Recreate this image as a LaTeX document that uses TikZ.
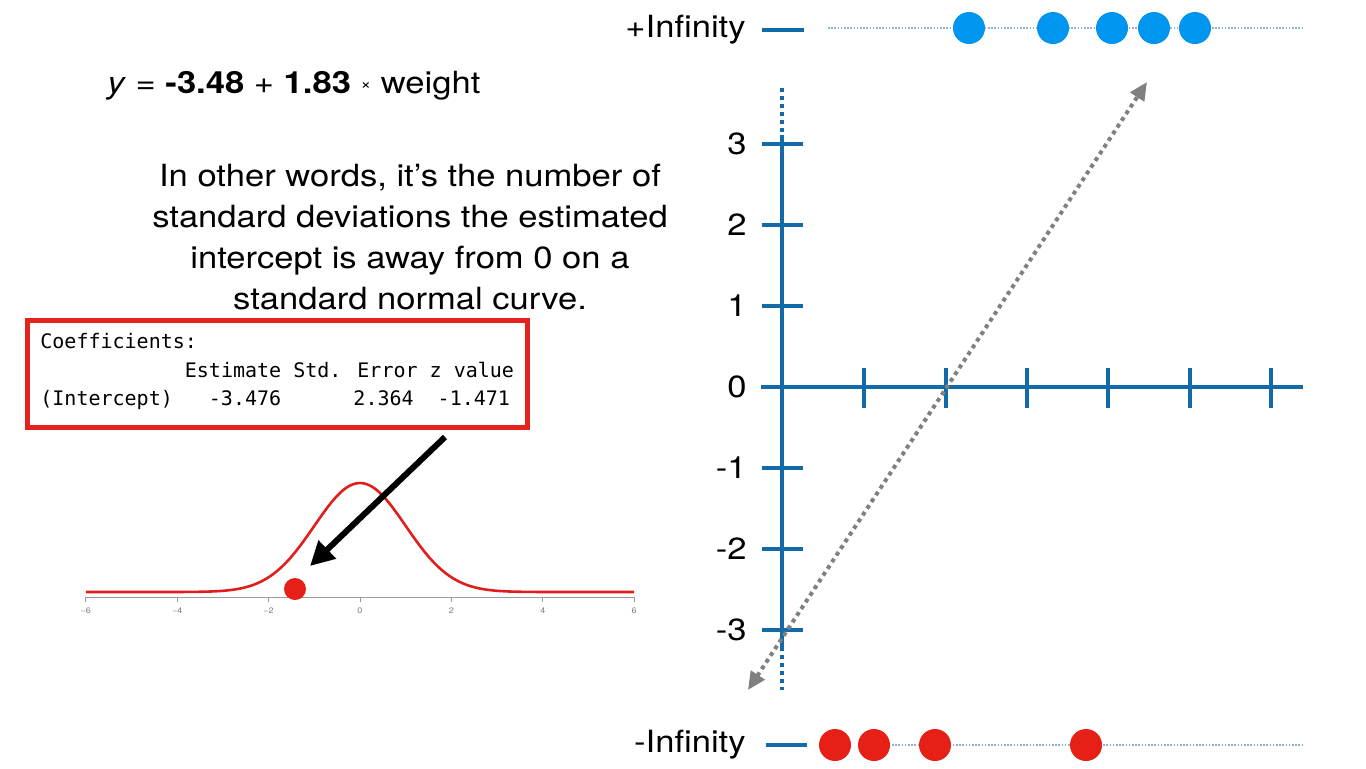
\documentclass[tikz,border=0pt]{standalone}
\usepackage{fontspec}
\setmainfont{TeX Gyre Heros}[FakeStretch=1.13]
\newfontfamily\codefont{DejaVu Sans Mono}
\usetikzlibrary{arrows.meta}
\definecolor{axblue}{RGB}{18,106,168}
\definecolor{dotblue}{RGB}{0,150,240}
\definecolor{dotred}{RGB}{230,32,22}
\definecolor{curvered}{RGB}{225,30,30}
\definecolor{boxred}{RGB}{228,35,30}
\definecolor{lineblue}{RGB}{140,180,215}
\definecolor{arrgray}{RGB}{128,128,128}
\tikzset{
  bigtext/.style={font=\fontsize{15.3}{20.5}\selectfont, inner sep=0pt},
  axline/.style={axblue, line width=2pt},
  axdots/.style={axblue, line width=2pt, dash pattern=on 2pt off 2pt},
  tickmark/.style={axblue, line width=2pt},
  infdots/.style={lineblue, line width=1pt, dash pattern=on 0.8pt off 0.8pt},
  bluedot/.style={circle, fill=dotblue, minimum size=16pt, inner sep=0pt},
  reddot/.style={circle, fill=dotred, minimum size=16pt, inner sep=0pt},
  codeline/.style={anchor=base west, inner sep=0pt, font=\codefont\fontsize{10}{14}\selectfont},
  smalllab/.style={font=\fontsize{4}{4}\selectfont, text=gray, inner sep=0pt}
}
\begin{document}
\begin{tikzpicture}[x=0.5pt,y=-0.5pt]
\fill[white] (0,0) rectangle (1366,768);
\useasboundingbox (0,0) rectangle (1366,768);

% ---------- left panel ----------
\node[bigtext, anchor=west] (eq) at (107,86)
  {\textit{y} = \textbf{-3.48} + \textbf{1.83} \raisebox{2.2pt}{\fontsize{8}{8}\selectfont ×} weight};

\node[bigtext, align=center] (expl) at (410,237)
  {In other words, it’s the number of\\standard deviations the estimated\\intercept is away from 0 on a\\standard normal curve.};

\node[draw=boxred, line width=2.5pt, minimum width=250pt, minimum height=53.5pt, inner sep=0pt] (coefbox) at (277,373.5) {};
\node[codeline] (c1) at (40,348) {Coefficients:};
\node[codeline] (c2) at (40,377) {~~~~~~~~~~~~Estimate Std. Error z value};
\node[codeline] (c3) at (40,405) {(Intercept)~~~-3.476~~~~~~2.364~~-1.471};

% normal curve
\draw[arrgray!80, line width=0.5pt] (86,597) -- (634,597);
\foreach \v in {-6,-4,-2,0,2,4,6}{
  \draw[arrgray!80, line width=0.5pt] ({360+45.7*\v},597) -- ({360+45.7*\v},602);
  \node[smalllab] (nl\v) at ({360+45.7*\v},611) {\ifnum\v<0 −\the\numexpr-\v\relax\else\v\fi};
}
\draw[curvered, line width=1.3pt] plot[domain=-6:6, samples=161, smooth]
  ({360+45.7*\x}, {592-109*exp(-0.5*(\x)*(\x))});
\node[circle, fill=dotred, minimum size=11pt, inner sep=0pt] (zdot) at (295,589) {};

\coordinate (bs) at (445,437);
\coordinate (be) at (310,566);
\draw[black, line width=3pt, -{Triangle[length=12pt,width=12pt]}] (bs) -- (be);

% ---------- right panel ----------
\coordinate (vtop) at (782,88);
\coordinate (vts) at (782,135);
\coordinate (vbs) at (782,647);
\coordinate (vbot) at (782,690);
\draw[axdots] (vtop) -- (vts);
\draw[axline] (vts) -- (vbs);
\draw[axdots] (vbs) -- (vbot);
\coordinate (hl) at (761,387);
\coordinate (hr) at (1303,387);
\draw[axline] (hl) -- (hr);
\foreach \v in {3,2,1,-1,-2,-3}{
  \draw[tickmark] (762,{387-81*\v}) -- (803,{387-81*\v});
}
\foreach \v in {3,2,1,0,-1,-2,-3}{
  \node[bigtext, anchor=east] (yl\v) at (747,{387-81*\v}) {\v};
}
\foreach \k in {1,...,6}{
  \draw[tickmark] ({783+81.3*\k},368) -- ({783+81.3*\k},408);
}

\coordinate (ga) at (748,690);
\coordinate (gb) at (1147,82);
\draw[arrgray, line width=2pt, dash pattern=on 2pt off 2pt,
  {Triangle[length=9pt,width=8pt]}-{Triangle[length=9pt,width=8pt]}] (ga) -- (gb);

% +Infinity
\node[bigtext, anchor=east] (pinf) at (746,30) {+Infinity};
\draw[axblue, line width=2.2pt] (762,30) -- (804,30);
\coordinate (tl) at (828,28);
\coordinate (tr) at (1302,28);
\draw[infdots] (tl) -- (tr);
\foreach \xx/\n in {969/1,1053/2,1112/3,1154/4,1195/5}{
  \node[bluedot] (b\n) at (\xx,28) {};
}

% -Infinity
\node[bigtext, anchor=east] (minf) at (746,745) {-Infinity};
\draw[axblue, line width=2.2pt] (766,745) -- (807,745);
\coordinate (bl) at (860,745);
\coordinate (br) at (1302,745);
\draw[infdots] (bl) -- (br);
\foreach \xx/\n in {835/1,874/2,935/3,1086/4}{
  \node[reddot] (r\n) at (\xx,745) {};
}
\end{tikzpicture}
\end{document}
